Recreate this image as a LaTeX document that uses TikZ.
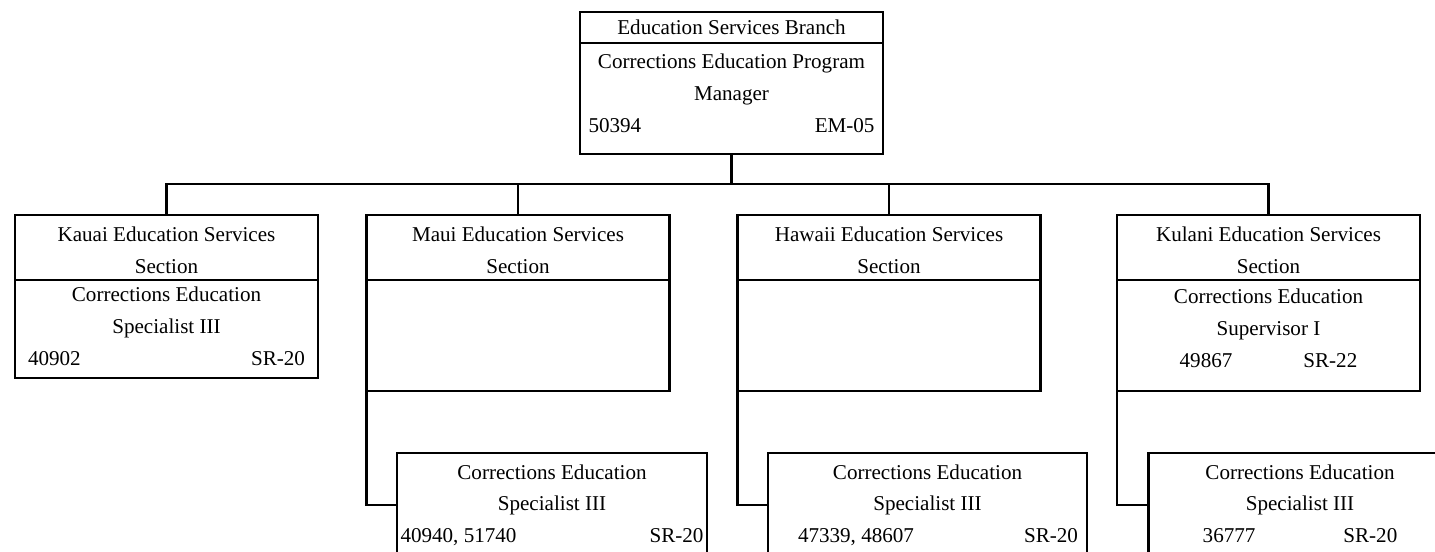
\documentclass[tikz,border=0pt]{standalone}
\usepackage{fontspec}
\setmainfont{Liberation Serif}
\usetikzlibrary{positioning}

\begin{document}
\begin{tikzpicture}[
	box/.style={draw,line width=1.2pt,outer sep=0pt,inner xsep=2pt,inner ysep=0pt,
		align=flush center,text width=5.9cm,minimum width=6.06cm,
		font=\fontsize{12}{18}\selectfont},
	% first baseline below the top edge, and the rest of the box
	rows/.style 2 args={text height=#1,text depth=#2},
	sect/.style={box,rows={0.54cm}{0.76cm}},
	post/.style={box,minimum height=2.22cm},
	sub/.style={box,rows={0.52cm}{1.56cm}},
	link/.style={line width=1.2pt}]
\useasboundingbox (0,0) rectangle (28.7,-11.04);
\clip (0,0) rectangle (28.7,-11.04);
% branch
\node[box,rows={0.46cm}{0.16cm}] (B) at (14.63,-0.55) {Education Services Branch};
\node[post,text width=5.72cm,rows={0.52cm}{1.70cm},below=0pt of B] (BP) {Corrections Education Program\\Manager\\50394\hfill EM-05};
% sections
\foreach \i/\x/\n in {1/3.33/Kauai,2/10.36/Maui,3/17.78/Hawaii,4/25.37/Kulani}
	\node[sect] (S\i) at (\x,-4.95) {\n{} Education Services\\Section};
% positions under each section
\node[post,minimum height=1.96cm,text width=5.54cm,rows={0.44cm}{1.52cm},below=0pt of S1] (P1) {Corrections Education\\Specialist III\\40902\hfill SR-20};
\node[post,below=0pt of S2] (P2) {};
\node[post,below=0pt of S3] (P3) {};
\node[post,rows={0.48cm}{1.74cm},below=0pt of S4] (P4) {Corrections Education\\Supervisor I\\49867\hspace{1.42cm}SR-22};
% specialists
\node[sub,minimum width=6.2cm,text width=6.06cm] (Q2) at (11.04,-10.1) {Corrections Education\\Specialist III\\40940, 51740\hfill SR-20};
\node[sub,minimum width=6.38cm,text width=6.02cm] (Q3) at (18.55,-10.1) {Corrections Education\\Specialist III\\\hspace*{0.42cm}47339, 48607\hfill SR-20};
\node[sub] (Q4) at (26,-10.1) {Corrections Education\\Specialist III\\36777\hspace{1.76cm}SR-20};
% connections
\coordinate (bus) at (0,-3.68);
\draw[link] (BP.south) -- (BP.south |- bus);
\draw[link] (S1.north) |- (BP.south |- bus) -| (S4.north);
\foreach \i in {2,3}
	\draw[link] (S\i.north) -- (S\i.north |- bus);
\foreach \i in {2,3,4}
	\draw[link] (P\i.south west) |- (Q\i.west);
\end{tikzpicture}
\end{document}
